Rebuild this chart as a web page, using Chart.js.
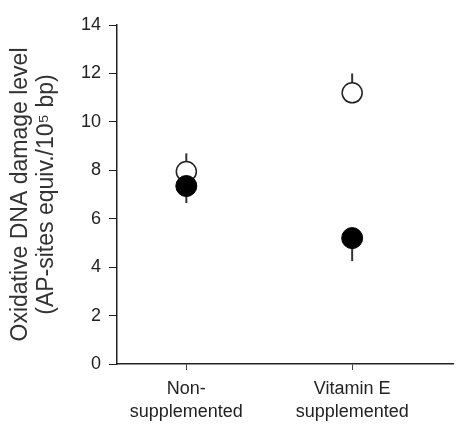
<!DOCTYPE html>
<html>
<head>
<meta charset="utf-8">
<script src="https://cdn.jsdelivr.net/npm/chart.js@4/dist/chart.umd.min.js"></script>
<style>
  body { margin: 0; background: #fff; }
  #wrap { width: 465px; height: 429px; }
</style>
</head>
<body>
<div id="wrap"><canvas id="mainChart" width="465" height="429"></canvas></div>
<script>
// groups on the x axis
var groups = [['Non-', 'supplemented'], ['Vitamin E', 'supplemented']];
var groupPos = [0, 1];

// open circles and their upper error
var openVals = [7.95, 11.2];
var openErrUp = [0.75, 0.8];

// filled circles and their lower error
var filledVals = [7.35, 5.2];
var filledErrDown = [0.7, 0.95];

var yTicks = [0, 2, 4, 6, 8, 10, 12, 14];

function pts(vals) {
  var out = [];
  for (var i in vals) out.push({x: groupPos[i], y: vals[i]});
  return out;
}

// one-sided error bars, drawn under the markers
var errorBars = {
  id: 'errorBars',
  beforeDatasetsDraw: function(chart) {
    var ctx = chart.ctx;
    var xs = chart.scales.x, ys = chart.scales.y;
    ctx.save();
    ctx.strokeStyle = '#333';
    ctx.lineWidth = 2;
    for (var i in groupPos) {
      var px = xs.getPixelForValue(groupPos[i]);
      ctx.beginPath();
      ctx.moveTo(px, ys.getPixelForValue(openVals[i]));
      ctx.lineTo(px, ys.getPixelForValue(openVals[i] + openErrUp[i]));
      ctx.stroke();
      ctx.beginPath();
      ctx.moveTo(px, ys.getPixelForValue(filledVals[i]));
      ctx.lineTo(px, ys.getPixelForValue(filledVals[i] - filledErrDown[i]));
      ctx.stroke();
    }
    ctx.restore();
  }
};

var chartdata = {
  datasets: [
    {
      label: 'filled',
      data: pts(filledVals),
      backgroundColor: '#000',
      borderColor: '#000',
      pointRadius: 10.5,
      borderWidth: 1,
      showLine: false
    },
    {
      label: 'open',
      data: pts(openVals),
      backgroundColor: '#fff',
      borderColor: '#222',
      pointRadius: 10,
      borderWidth: 1.5,
      showLine: false
    }
  ]
};

var myChart = new Chart(document.getElementById('mainChart'), {
  type: 'scatter',
  data: chartdata,
  plugins: [errorBars],
  options: {
    responsive: false,
    animation: false,
    layout: { padding: { top: 25, right: 3, left: 0, bottom: 0 } },
    plugins: { legend: { display: false }, tooltip: { enabled: false } },
    scales: {
      x: {
        type: 'linear',
        min: -0.418,
        max: 1.611,
        afterBuildTicks: function(scale) {
          scale.ticks = groupPos.map(function(v) { return {value: v}; });
        },
        afterFit: function(scale) { scale.height = 65; },
        ticks: {
          color: '#222',
          font: { family: 'Liberation Sans', size: 18, lineHeight: 1.25 },
          padding: 8,
          maxRotation: 0,
          callback: function(v) { return groups[groupPos.indexOf(v)]; }
        },
        grid: { display: true, drawOnChartArea: false, color: '#444', tickLength: 6, lineWidth: 1 },
        border: { color: '#222', width: 1.5 }
      },
      y: {
        min: 0,
        max: 14,
        afterBuildTicks: function(scale) {
          scale.ticks = yTicks.map(function(v) { return {value: v}; });
        },
        afterFit: function(scale) { scale.width = 117; },
        ticks: {
          color: '#222',
          font: { family: 'Liberation Sans', size: 18 },
          padding: 8
        },
        grid: { display: true, drawOnChartArea: false, color: '#222', tickLength: 8, lineWidth: 1 },
        border: { color: '#222', width: 1.5 },
        title: {
          display: true,
          text: ['Oxidative DNA damage level', '(AP-sites equiv./10\u2075 bp)'],
          color: '#333',
          font: { family: 'Liberation Sans', size: 23, lineHeight: 1.15 },
          padding: { top: 7, bottom: 0 }
        }
      }
    }
  }
});
</script>
</body>
</html>
